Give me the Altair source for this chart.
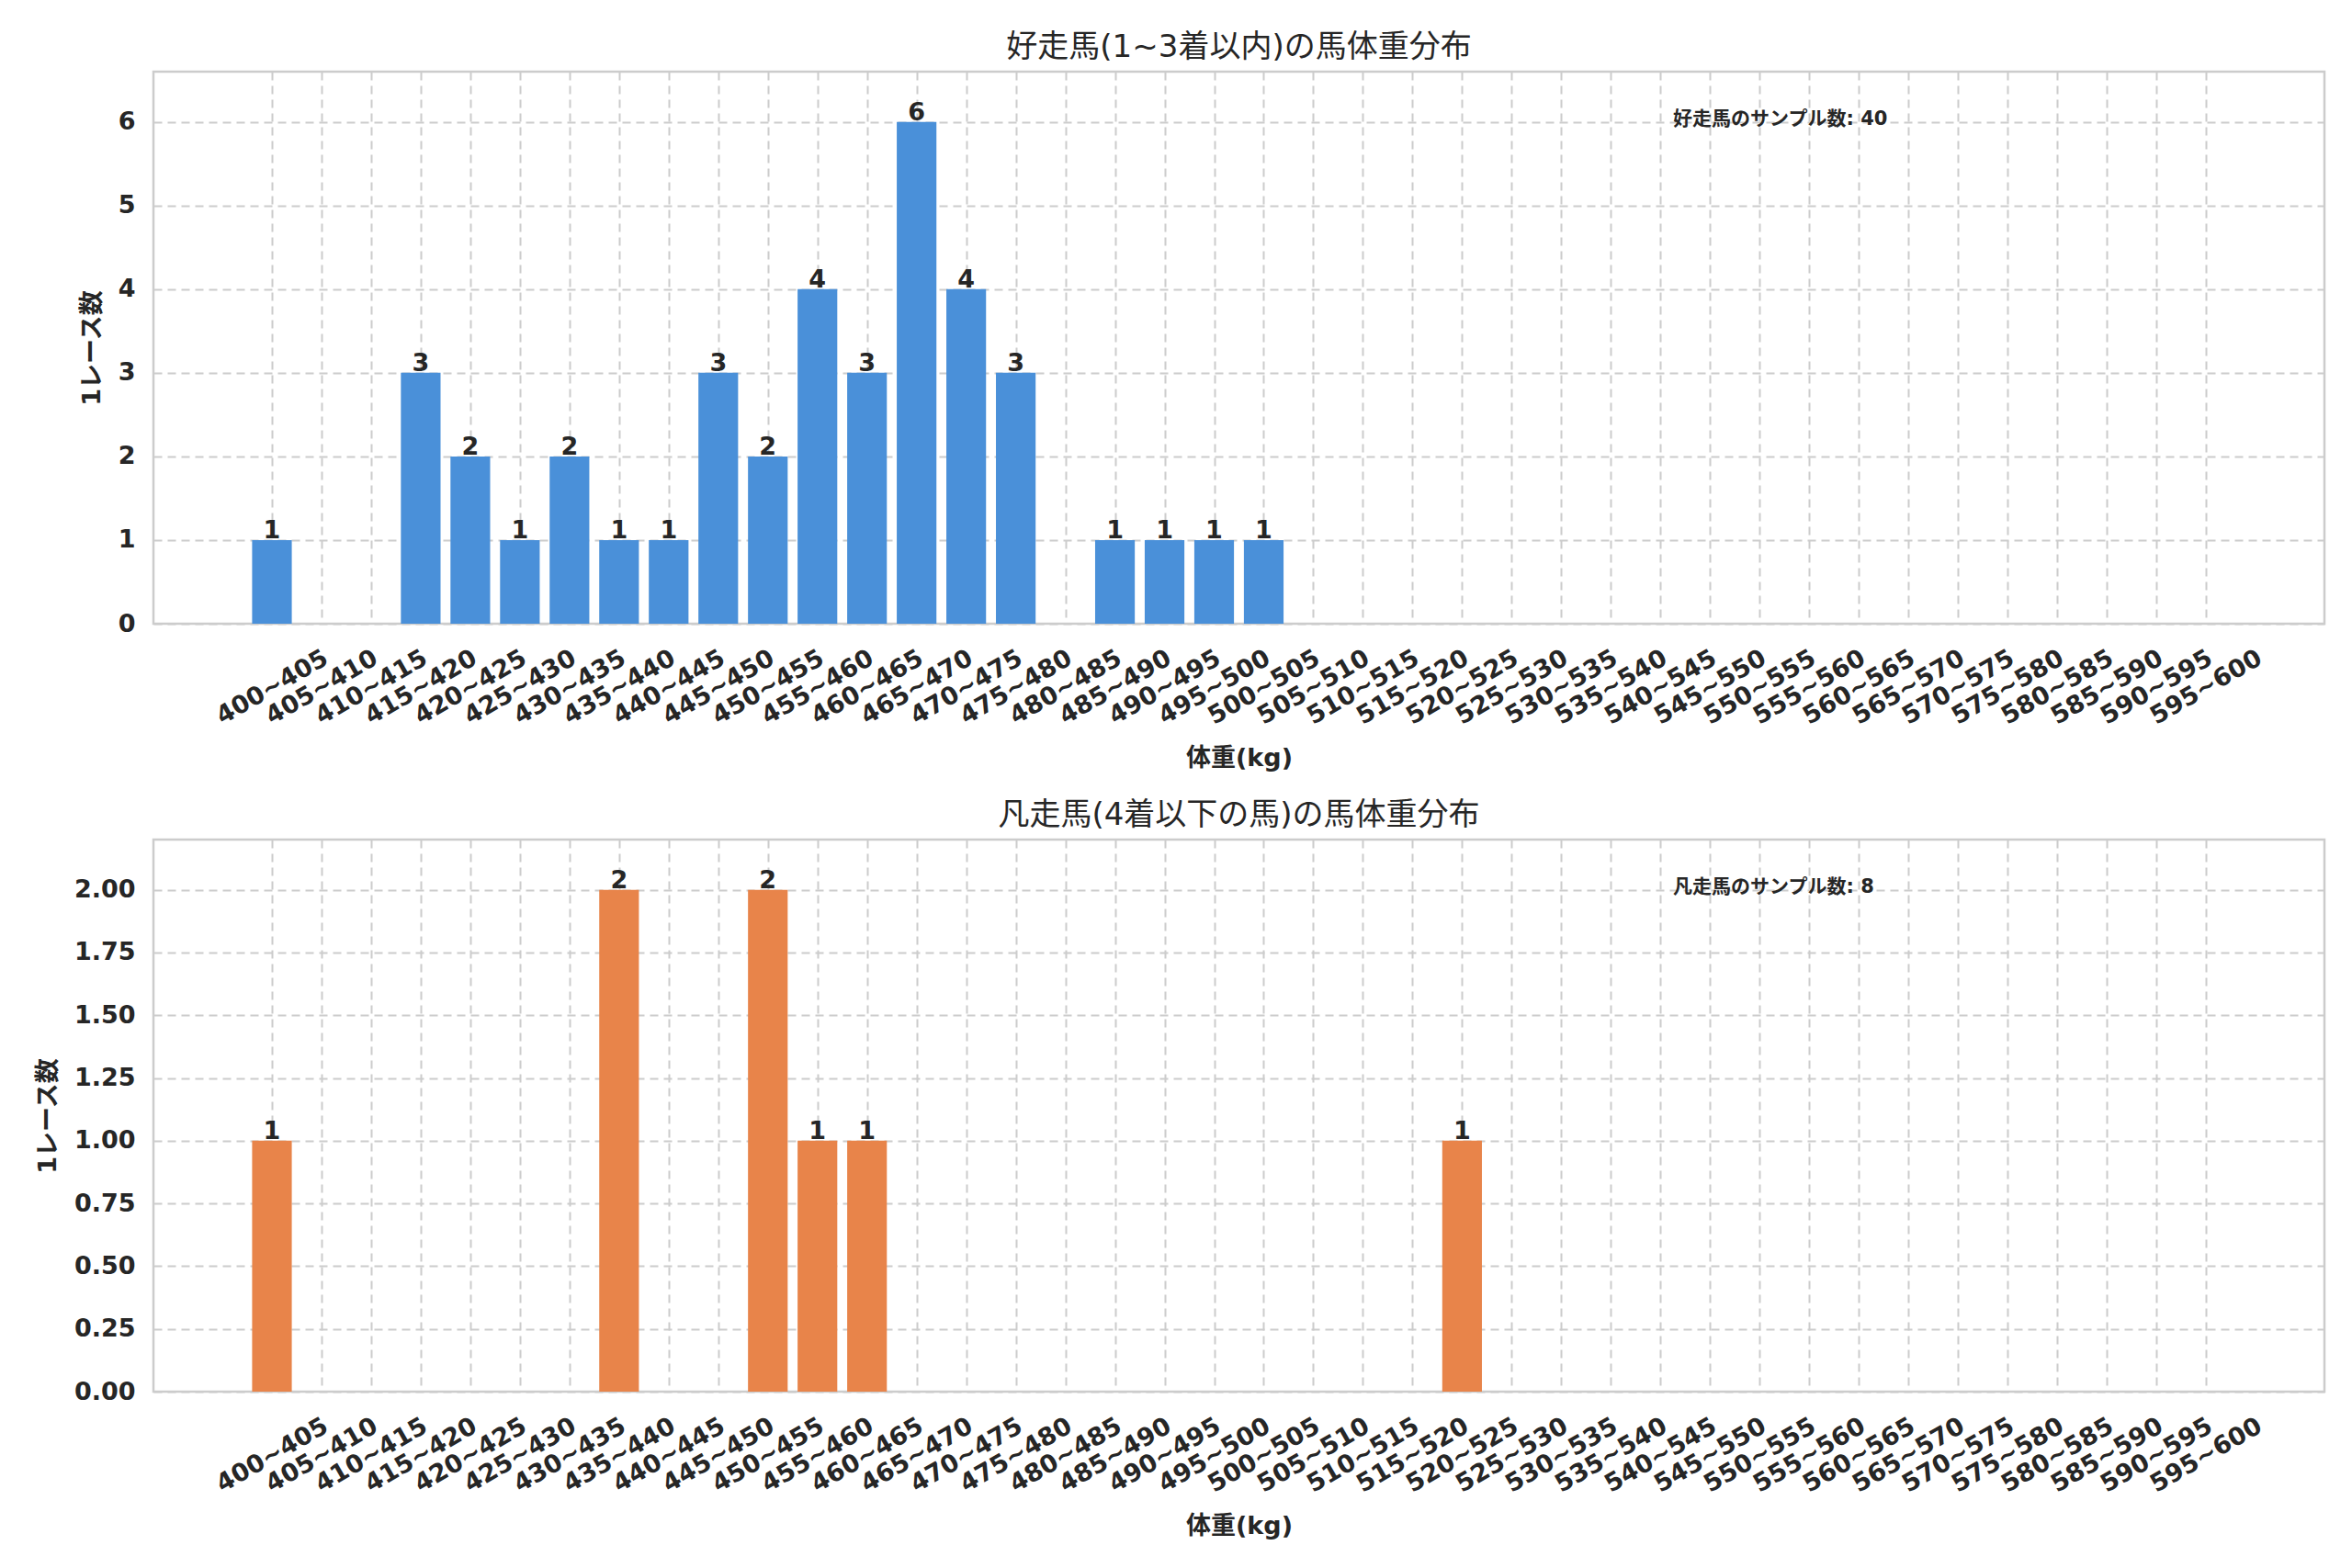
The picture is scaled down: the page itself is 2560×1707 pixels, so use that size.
import altair as alt
import pandas as pd

# weight bins (kg), 400~405 ... 595~600
bins = [f"{lo}~{lo + 5}" for lo in range(400, 600, 5)]

top_counts = [1, 0, 0, 3, 2, 1, 2, 1, 1, 3,
              2, 4, 3, 6, 4, 3, 0, 1, 1, 1,
              1, 0, 0, 0, 0, 0, 0, 0, 0, 0,
              0, 0, 0, 0, 0, 0, 0, 0, 0, 0]
bottom_counts = [1, 0, 0, 0, 0, 0, 0, 2, 0, 0,
                 2, 1, 1, 0, 0, 0, 0, 0, 0, 0,
                 0, 0, 0, 0, 1, 0, 0, 0, 0, 0,
                 0, 0, 0, 0, 0, 0, 0, 0, 0, 0]

top_title = "好走馬(1~3着以内)の馬体重分布"
bottom_title = "凡走馬(4着以下の馬)の馬体重分布"
top_note = "好走馬のサンプル数: 40"
bottom_note = "凡走馬のサンプル数: 8"
x_title = "体重(kg)"
y_title = "1レース数"

FONT = "DejaVu Sans, Noto Sans CJK JP"
INK = "#262626"
W, H = 2363, 601
n = len(bins)
label_expr = "[" + ",".join(f"'{b}'" for b in bins) + "][datum.value]"


def panel(counts, color, title, note, ymax, yticks, yfmt):
    df = pd.DataFrame({"idx": range(n), "bin": bins, "count": counts})
    x = alt.X(
        "lo:Q",
        scale=alt.Scale(domain=[-2.39, n - 1 + 2.39], nice=False, zero=False),
        axis=alt.Axis(
            title=x_title,
            values=list(range(n)),
            labelExpr=label_expr,
            labelAngle=-30,
            labelAlign="center",
            labelBaseline="middle",
            labelPadding=69,
            labelOverlap=False,
            labelBound=False,
            titlePadding=19,
        ),
    )
    y = alt.Y(
        "count:Q",
        scale=alt.Scale(domain=[0, ymax], nice=False),
        axis=alt.Axis(
            title=y_title, values=yticks, format=yfmt,
            labelPadding=20, titlePadding=14,
        ),
    )
    base = (
        alt.Chart(df)
        .transform_filter("datum.count > 0")
        .transform_calculate(lo="datum.idx - 0.4", hi="datum.idx + 0.4")
    )
    bars = base.mark_bar(color=color).encode(x=x, x2="hi:Q", y=y, y2=alt.datum(0))
    labels = base.mark_text(
        font=FONT,
        fontSize=27,
        fontWeight="bold",
        color=INK,
        baseline="alphabetic",
        dy=-2,
    ).encode(x="idx:Q", y="count:Q", text="count:Q")
    annot = (
        alt.Chart(pd.DataFrame({"t": [note]}))
        .mark_text(
            font=FONT,
            fontSize=21,
            fontWeight="bold",
            color=INK,
            align="left",
            baseline="middle",
        )
        .encode(x=alt.value(0.7 * W), y=alt.value(0.087 * H), text="t:N")
    )
    return (bars + labels + annot).properties(
        width=W,
        height=H,
        title=alt.TitleParams(title, fontSize=34, fontWeight="normal", font=FONT, color=INK, offset=9),
    )


top = panel(top_counts, "#4A90D9", top_title, top_note, 6.6, [0, 1, 2, 3, 4, 5, 6], "d")
bottom = panel(
    bottom_counts, "#E8844A", bottom_title, bottom_note, 2.2,
    [0, 0.25, 0.5, 0.75, 1.0, 1.25, 1.5, 1.75, 2.0], ".2f",
)

chart = (
    alt.vconcat(top, bottom, spacing=29)
    .properties(padding={"left": 29, "top": 25, "right": 10, "bottom": 10})
    .configure(font=FONT)
    .configure_view(stroke="#cccccc", strokeWidth=2.5)
    .configure_axis(
        labelFont=FONT,
        labelFontSize=27,
        labelFontWeight="bold",
        labelColor=INK,
        titleFont=FONT,
        titleFontSize=27,
        titleFontWeight="bold",
        titleColor=INK,
        grid=True,
        gridColor="#cccccc",
        gridDash=[9, 6],
        gridWidth=2,
        ticks=False,
        domain=False,
    )
)

chart.save("out.html", embed_options={"renderer": "svg", "actions": False})
